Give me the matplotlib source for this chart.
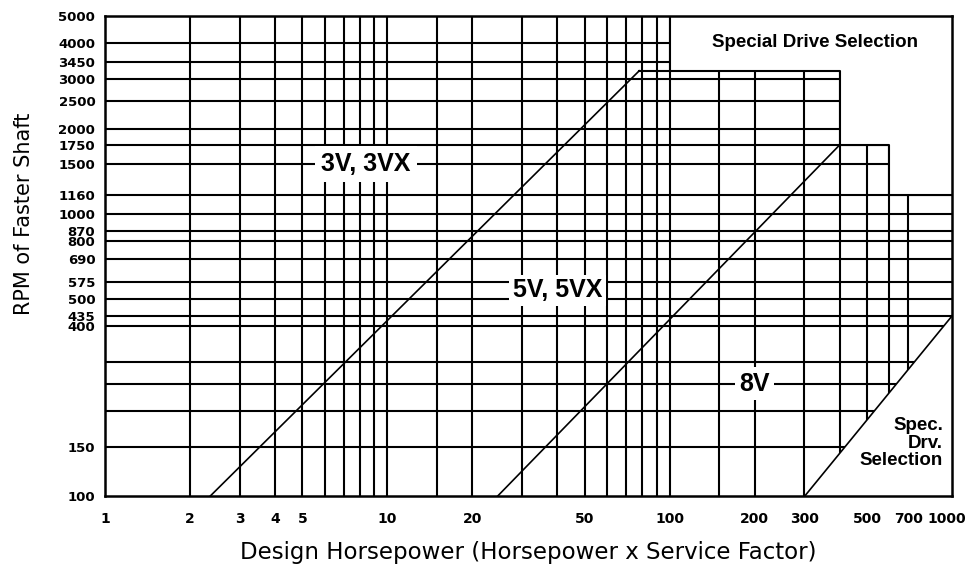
import matplotlib.pyplot as plt
from matplotlib.patches import Polygon
from matplotlib.ticker import FixedLocator, FixedFormatter, NullLocator
from matplotlib.transforms import ScaledTranslation

plt.rcParams['font.family'] = ['DejaVu Sans']

# tick labels
x_ticks = [1, 2, 3, 4, 5, 10, 20, 50, 100, 200, 300, 500, 700, 1000]
y_ticks = [100, 150, 400, 435, 500, 575, 690, 800, 870, 1000, 1160,
           1500, 1750, 2000, 2500, 3000, 3450, 4000, 5000]

# grid lines of the selection chart
hp_lines = [2, 3, 4, 5, 6, 7, 8, 9, 10, 15, 20, 30, 40, 50, 60, 70, 80, 90,
            100, 150, 200, 300, 400, 500, 600, 700]
rpm_lines = [150, 200, 250, 300, 400, 435, 500, 575, 690, 800, 870, 1000,
             1160, 1500, 1750, 2000, 2500, 3000, 3450, 4000]

# belt section boundaries
hp_3v = [2.35, 78]
rpm_3v = [100, 3200]
hp_5v = [24.5, 400]
rpm_5v = [100, 1750]
hp_8v = [300, 1000]
rpm_8v = [100, 435]

# upper limit of the standard area (above it: special drive selection)
limit_hp = [78, 400, 400, 600, 600, 1000]
limit_rpm = [3200, 3200, 1750, 1750, 1160, 1160]
special_box_hp = 100

x_min, x_max = 1, 1000
y_min, y_max = 100, 5000

fig = plt.figure(figsize=(9.69, 5.64), dpi=100)
ax = fig.add_axes([0.1084, 0.1197, 0.8741, 0.8520])
ax.set_xscale('log')
ax.set_yscale('log')
ax.set_xlim(x_min, x_max)
ax.set_ylim(y_min, y_max)

# grid
for r in rpm_lines:
    ax.axhline(r, color='black', lw=1.5, zorder=1)
for h in hp_lines:
    ax.axvline(h, color='black', lw=1.5, zorder=1)

# special drive regions blank out the grid
top_region = ([(special_box_hp, limit_rpm[0])]
              + list(zip(limit_hp[1:], limit_rpm[1:]))
              + [(x_max, y_max), (special_box_hp, y_max)])
ax.add_patch(Polygon(top_region, closed=True, fc='white', ec='none', zorder=2))
low_region = [(hp_8v[0], y_min), (hp_8v[1], rpm_8v[1]), (hp_8v[1], y_min)]
ax.add_patch(Polygon(low_region, closed=True, fc='white', ec='none', zorder=2))

ax.plot(limit_hp, limit_rpm, color='black', lw=1.5, zorder=3)
ax.plot([special_box_hp, special_box_hp], [limit_rpm[0], y_max],
        color='black', lw=1.5, zorder=3)

# belt lines
for hp, rpm in [(hp_3v, rpm_3v), (hp_5v, rpm_5v), (hp_8v, rpm_8v)]:
    ax.plot(hp, rpm, color='black', lw=1.2, zorder=3)

lab = dict(fontsize=18, fontweight='bold', family='Liberation Sans',
           ha='center', va='center', zorder=4)
ax.text(8.4, 1500, '3V, 3VX',
        bbox=dict(boxstyle='square,pad=0.25', fc='white', ec='none'), **lab)
ax.text(40, 536, '5V, 5VX',
        bbox=dict(boxstyle='square,pad=0.15', fc='white', ec='none'), **lab)
ax.text(200, 250, '8V',
        bbox=dict(boxstyle='square,pad=0.18', fc='white', ec='none'), **lab)

ax.text(0.838, 0.944, 'Special Drive Selection', transform=ax.transAxes,
        fontsize=13.5, fontweight='bold', family='Liberation Sans',
        ha='center', va='center', zorder=4)
ax.text(0.9894, 0.111, 'Spec.\nDrv.\nSelection', transform=ax.transAxes,
        fontsize=13.5, fontweight='bold', family='Liberation Sans',
        ha='right', va='center', multialignment='right', linespacing=1.05,
        zorder=4)

# axes, ticks
ax.xaxis.set_major_locator(FixedLocator(x_ticks))
ax.xaxis.set_major_formatter(FixedFormatter([str(v) for v in x_ticks]))
ax.xaxis.set_minor_locator(NullLocator())
ax.yaxis.set_major_locator(FixedLocator(y_ticks))
ax.yaxis.set_major_formatter(FixedFormatter([str(v) for v in y_ticks]))
ax.yaxis.set_minor_locator(NullLocator())
ax.tick_params(axis='x', length=0, labelsize=10, pad=11)
ax.tick_params(axis='y', length=0, labelsize=9.5, pad=7)
for t in ax.get_xticklabels() + ax.get_yticklabels():
    t.set_fontweight('bold')
# keep "1000" inside the figure
last = ax.get_xticklabels()[-1]
last.set_transform(last.get_transform()
                   + ScaledTranslation(-5 / 100, 0, fig.dpi_scale_trans))

ax.set_xlabel('Design Horsepower (Horsepower x Service Factor)', fontsize=16.5)
ax.xaxis.set_label_coords(0.5, -0.0926)
ax.set_ylabel('RPM of Faster Shaft', fontsize=15)
ax.yaxis.set_label_coords(-0.084, 0.588)

for s in ax.spines.values():
    s.set_linewidth(1.8)
    s.set_zorder(5)

fig.savefig('out.png', dpi=100)
